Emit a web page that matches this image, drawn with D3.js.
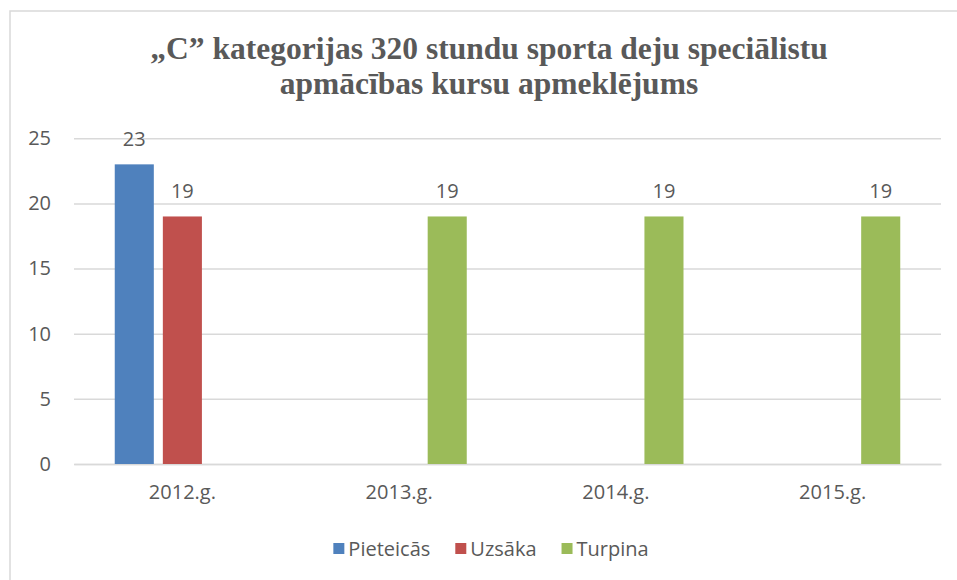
<!DOCTYPE html>
<html>
<head>
<meta charset="utf-8">
<script src="https://cdn.jsdelivr.net/npm/d3@7"></script>
<style>
  html, body { margin: 0; padding: 0; background: #fff; }
  svg { display: block; }
</style>
</head>
<body>
<svg id="chart" width="957" height="580"></svg>
<script>
const titleLines = ["„C” kategorijas 320 stundu sporta deju speciālistu", "apmācības kursu apmeklējums"];
const categories = ["2012.g.", "2013.g.", "2014.g.", "2015.g."];
const seriesNames = ["Pieteicās", "Uzsāka", "Turpina"];
const pieteicas = [23, null, null, null];
const uzsaka = [19, null, null, null];
const turpina = [null, 19, 19, 19];
const yTicks = [0, 5, 10, 15, 20, 25];
const colors = ["#4F81BD", "#C0504D", "#9BBB59"];

const seriesValues = [pieteicas, uzsaka, turpina];
const svg = d3.select("#chart");
const textColor = "#595959";
const gridColor = "#d9d9d9";
const uiFont = "'Open Sans', 'Noto Sans', sans-serif";

// frame
svg.append("rect").attr("x", 10).attr("y", 11).attr("width", 1000).attr("height", 620)
  .attr("fill", "#fff").attr("stroke", gridColor).attr("stroke-width", 1.5);

// title
const title = svg.append("text").attr("text-anchor", "middle")
  .attr("font-family", "'Liberation Serif', 'Times New Roman', serif")
  .attr("font-weight", "bold").attr("font-size", 31.5).attr("fill", textColor);
titleLines.forEach((t, i) => {
  title.append("tspan").attr("x", 489).attr("y", 59 + i * 35).text(t);
});

const plot = { left: 74, right: 941, top: 138.3, bottom: 464 };

const y = d3.scaleLinear().domain([0, 25]).range([plot.bottom, plot.top]);
const x0 = d3.scaleBand().domain(categories).range([plot.left, plot.right]).padding(0);
const groupPad = x0.bandwidth() * 0.188;
const x1 = d3.scaleBand().domain(seriesNames)
  .range([groupPad, x0.bandwidth() - groupPad]).paddingInner(0.1875).paddingOuter(0);

// gridlines + y axis
const yAxis = d3.axisLeft(y).tickValues(yTicks).tickSize(-(plot.right - plot.left)).tickPadding(23);
const gy = svg.append("g").attr("transform", `translate(${plot.left},0)`).call(yAxis);
gy.select(".domain").remove();
gy.selectAll(".tick line").attr("stroke", gridColor).attr("stroke-width", 1.5);
gy.selectAll(".tick text").attr("font-family", uiFont).attr("font-size", 20).attr("fill", textColor);

// x axis
const xAxis = d3.axisBottom(x0).tickSize(0).tickPadding(21);
const gx = svg.append("g").attr("transform", `translate(0,${plot.bottom})`).call(xAxis);
gx.select(".domain").attr("stroke", gridColor).attr("stroke-width", 1.5);
gx.selectAll(".tick text").attr("font-family", uiFont).attr("font-size", 20).attr("fill", textColor);

// bars
const data = [];
categories.forEach((c, ci) => {
  seriesNames.forEach((s, si) => {
    const v = seriesValues[si][ci];
    if (v !== null && v !== undefined) data.push({ c, s, si, v });
  });
});

const bars = svg.append("g");
bars.selectAll("rect").data(data).enter().append("rect")
  .attr("x", d => x0(d.c) + x1(d.s))
  .attr("y", d => y(d.v))
  .attr("width", x1.bandwidth())
  .attr("height", d => y(0) - y(d.v))
  .attr("fill", d => colors[d.si]);

bars.selectAll("text").data(data).enter().append("text")
  .attr("x", d => x0(d.c) + x1(d.s) + x1.bandwidth() / 2)
  .attr("y", d => y(d.v) - 18)
  .attr("text-anchor", "middle")
  .attr("font-family", uiFont).attr("font-size", 20).attr("fill", textColor)
  .text(d => d.v);

// legend
const legend = svg.append("g");
const items = legend.selectAll("g").data(seriesNames).enter().append("g");
items.append("rect").attr("width", 11).attr("height", 11).attr("y", 543)
  .attr("fill", (d, i) => colors[i]);
items.append("text").attr("y", 556).attr("x", 15)
  .attr("font-family", uiFont).attr("font-size", 20).attr("fill", textColor)
  .text(d => d);
let widths = [];
items.each(function () { widths.push(15 + d3.select(this).select("text").node().getComputedTextLength()); });
const gap = 25;
const total = d3.sum(widths) + gap * (widths.length - 1);
let cx = 491 - total / 2;
items.each(function (d, i) {
  d3.select(this).attr("transform", `translate(${cx},0)`);
  cx += widths[i] + gap;
});
</script>
</body>
</html>
